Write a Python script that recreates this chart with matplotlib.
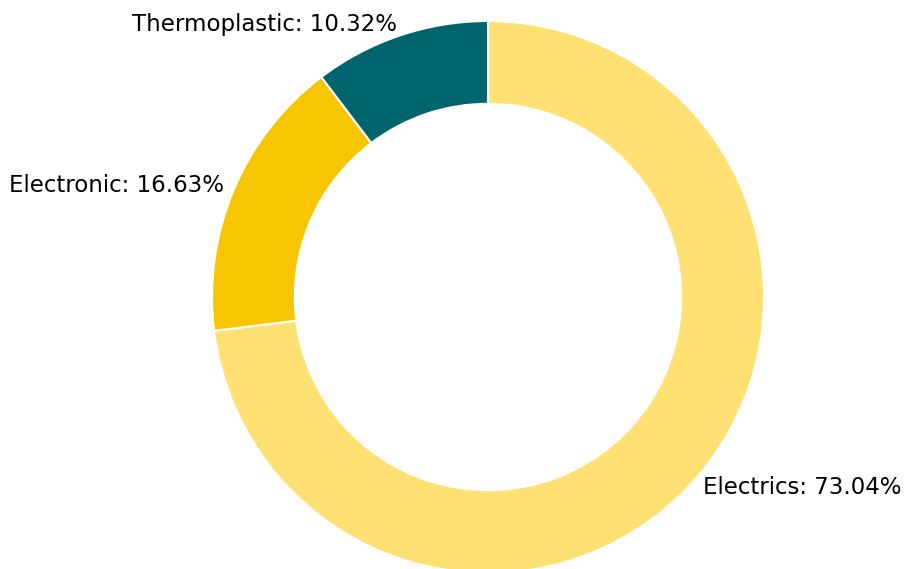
import matplotlib.pyplot as plt

labels = ["Electrics", "Electronic", "Thermoplastic"]
shares = [73.04, 16.63, 10.32]
colors = ["#FFE073", "#F7C600", "#00646E"]

fig = plt.figure(figsize=(9.06, 5.69), dpi=100)
ax = fig.add_axes([0, 0, 1, 1])

texts = ["%s: %.2f%%" % (l, s) for l, s in zip(labels, shares)]
ax.pie(shares, labels=texts, colors=colors, startangle=90, counterclock=False,
       labeldistance=1.04, radius=1,
       wedgeprops=dict(width=0.3, edgecolor="white", linewidth=1.5),
       textprops=dict(fontsize=16.5))

# place the donut: center at (488, 297) px, outer radius 276 px
r = 276.0
ax.set_xlim(-488 / r, (906 - 488) / r)
ax.set_ylim(-(569 - 297) / r, 297 / r)
ax.set_aspect("equal")
ax.axis("off")

fig.savefig("out.png", dpi=100)
